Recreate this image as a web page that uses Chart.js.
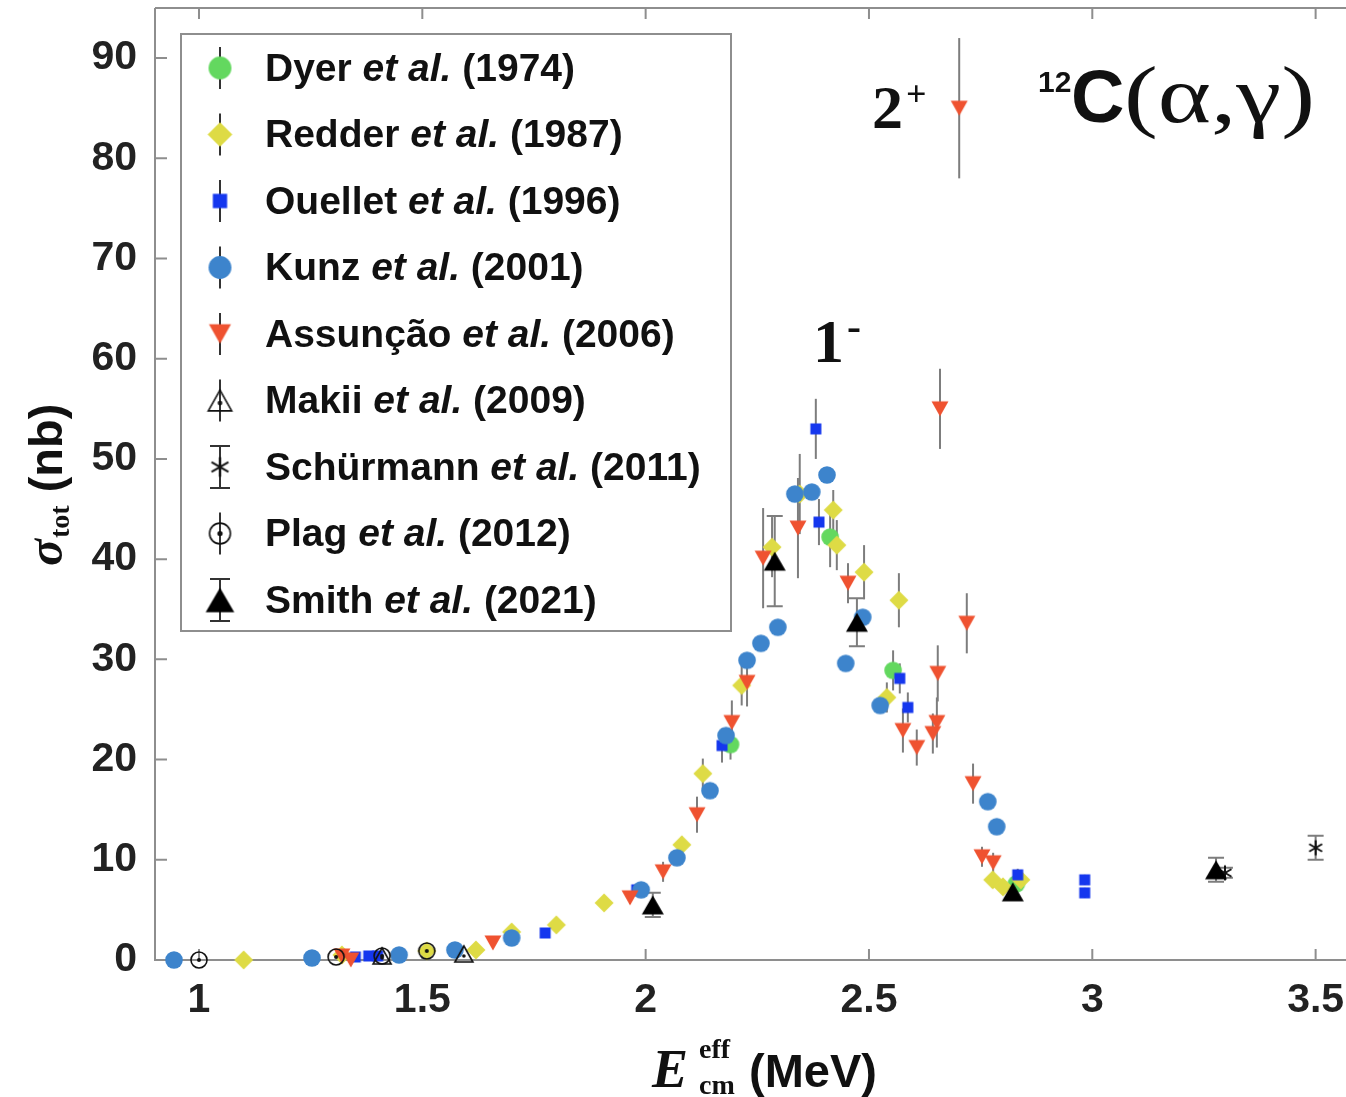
<!DOCTYPE html>
<html>
<head>
<meta charset="utf-8">
<script src="https://cdn.jsdelivr.net/npm/chart.js@4.4.0/dist/chart.umd.min.js"></script>
<style>
  html, body { margin: 0; padding: 0; background: #fff; }
</style>
</head>
<body>
<canvas id="chart" width="1346" height="1097"></canvas>
<script>
// Studies shown in the legend
const studyNames = ["Dyer", "Redder", "Ouellet", "Kunz", "Assunção", "Makii", "Schürmann", "Plag", "Smith"];
const studyYears = ["1974", "1987", "1996", "2001", "2006", "2009", "2011", "2012", "2021"];

// Values: E (MeV), sigma (nb), error (nb)
const dyerE = [2.19, 2.413, 2.554, 2.83];
const dyerSigma = [21.5, 42.2, 28.9, 7.6];
const dyerErr = [1.5, 3.0, 2.0, 0.8];

const redderE = [1.10, 1.32, 1.51, 1.62, 1.70, 1.80, 1.907, 2.081, 2.128, 2.215, 2.283, 2.345, 2.42, 2.428, 2.489, 2.54, 2.567, 2.777, 2.80, 2.84];
const redderSigma = [0.0, 0.5, 0.9, 1.0, 2.8, 3.5, 5.7, 11.5, 18.6, 27.4, 41.2, 46.5, 44.9, 41.4, 38.7, 26.2, 35.9, 8.0, 7.3, 8.0];
const redderErr = [0, 0, 0, 0, 0, 0, 0, 0.8, 1.5, 2.0, 3.0, 4.0, 2.0, 2.5, 2.7, 1.5, 2.7, 0.8, 0.8, 0.8];

const ouelletE = [1.35, 1.38, 1.40, 1.775, 1.98, 2.171, 2.381, 2.388, 2.569, 2.587, 2.833, 2.983, 2.983];
const ouelletSigma = [0.3, 0.4, 0.4, 2.7, 7.0, 21.4, 53.0, 43.7, 28.1, 25.2, 8.5, 8.0, 6.7];
const ouelletErr = [0, 0, 0, 0, 0.4, 1.7, 3.0, 2.3, 1.5, 1.5, 0.6, 0.5, 0.5];

const kunzE = [0.944, 1.253, 1.448, 1.573, 1.70, 1.99, 2.07, 2.144, 2.18, 2.227, 2.258, 2.296, 2.334, 2.372, 2.406, 2.448, 2.486, 2.525, 2.766, 2.786];
const kunzSigma = [0.0, 0.2, 0.5, 1.0, 2.2, 7.0, 10.2, 16.9, 22.4, 29.9, 31.6, 33.2, 46.5, 46.7, 48.4, 29.6, 34.2, 25.4, 15.8, 13.3];

const assuncaoE = [1.32, 1.34, 1.658, 1.965, 2.039, 2.115, 2.193, 2.227, 2.263, 2.341, 2.453, 2.576, 2.607, 2.643, 2.652, 2.654, 2.659, 2.702, 2.719, 2.733, 2.753, 2.778];
const assuncaoSigma = [0.4, 0.0, 1.7, 6.2, 8.8, 14.5, 23.7, 27.7, 40.1, 43.1, 37.6, 22.9, 21.2, 22.6, 23.7, 28.6, 55.0, 85.0, 33.6, 17.6, 10.3, 9.7];
const assuncaoErr = [0, 0, 0.3, 0.6, 1.0, 1.8, 2.2, 2.4, 5.0, 5.0, 2.0, 2.2, 1.8, 2.0, 2.5, 2.8, 4.0, 7.0, 3.0, 2.0, 1.0, 1.0];

const makiiE = [1.41, 1.593];
const makiiSigma = [0.4, 0.6];

const schurmannE = [3.297, 3.50];
const schurmannSigma = [8.7, 11.2];
const schurmannErr = [0.5, 1.2];

const plagE = [1.0, 1.307, 1.41, 1.51];
const plagSigma = [0.0, 0.3, 0.4, 0.9];

const smithE = [2.016, 2.289, 2.473, 2.822, 3.277];
const smithSigma = [5.5, 39.8, 33.7, 6.8, 9.0];
const smithErr = [1.2, 4.5, 2.4, 0.6, 1.2];

// Axis ticks
const xTicks = [1, 1.5, 2, 2.5, 3, 3.5];
const xTickLabels = ["1", "1.5", "2", "2.5", "3", "3.5"];
const yTicks = [0, 10, 20, 30, 40, 50, 60, 70, 80, 90];
const yTickLabels = ["0", "10", "20", "30", "40", "50", "60", "70", "80", "90"];

const SANS = '"Liberation Sans", Arial, sans-serif';
const SERIF = '"Liberation Serif", "Times New Roman", serif';

// Marker drawn on a small canvas, used both in the plot and the legend
function makeMarker(kind, color, k) {
  k = k || 1;
  const s = Math.ceil(28 * k);
  const cv = document.createElement("canvas");
  cv.width = s; cv.height = s;
  const g = cv.getContext("2d");
  const c = s / 2;
  g.fillStyle = color;
  g.strokeStyle = color;
  g.beginPath();
  if (kind === "circle") {
    g.arc(c, c, 8.8 * k, 0, Math.PI * 2);
    g.fill();
  } else if (kind === "square") {
    g.fillRect(c - 5.5 * k, c - 5.5 * k, 11 * k, 11 * k);
  } else if (kind === "diamond") {
    const r = 9.5 * k;
    g.moveTo(c, c - r); g.lineTo(c + r, c); g.lineTo(c, c + r); g.lineTo(c - r, c);
    g.closePath(); g.fill();
  } else if (kind === "down") {
    const w = 8.5 * k, h = 15 * k;
    g.moveTo(c - w, c - h / 2); g.lineTo(c + w, c - h / 2); g.lineTo(c, c + h / 2);
    g.closePath(); g.fill();
  } else if (kind === "up") {
    const w = 11 * k, h = 19 * k;
    g.moveTo(c - w, c + h / 2); g.lineTo(c + w, c + h / 2); g.lineTo(c, c - h / 2);
    g.closePath(); g.fill();
  } else if (kind === "upOpen") {
    const w = 9 * k, h = 16 * k;
    g.lineWidth = 1.6;
    g.moveTo(c - w, c + h / 2); g.lineTo(c + w, c + h / 2); g.lineTo(c, c - h / 2);
    g.closePath(); g.stroke();
    g.beginPath(); g.arc(c, c + 2 * k, 1.8 * k, 0, Math.PI * 2); g.fill();
  } else if (kind === "ringDot") {
    g.lineWidth = 1.6;
    g.arc(c, c, 8 * k, 0, Math.PI * 2); g.stroke();
    g.beginPath(); g.arc(c, c, 2 * k, 0, Math.PI * 2); g.fill();
  } else if (kind === "aster") {
    g.lineWidth = 2;
    const r = 7.5 * k;
    [90, 30, 150].forEach(a => {
      const t = a * Math.PI / 180;
      g.moveTo(c - r * Math.cos(t), c - r * Math.sin(t));
      g.lineTo(c + r * Math.cos(t), c + r * Math.sin(t));
    });
    g.stroke();
  }
  return cv;
}

const seriesStyles = [
  { kind: "circle", color: "#63d85f" },
  { kind: "diamond", color: "#dedb45" },
  { kind: "square", color: "#1537ee" },
  { kind: "circle", color: "#3d84cc" },
  { kind: "down", color: "#ef5230" },
  { kind: "upOpen", color: "#111" },
  { kind: "aster", color: "#111", caps: true },
  { kind: "ringDot", color: "#111" },
  { kind: "up", color: "#000", caps: true }
];

const seriesData = [
  [dyerE, dyerSigma, dyerErr],
  [redderE, redderSigma, redderErr],
  [ouelletE, ouelletSigma, ouelletErr],
  [kunzE, kunzSigma, null],
  [assuncaoE, assuncaoSigma, assuncaoErr],
  [makiiE, makiiSigma, null],
  [schurmannE, schurmannSigma, schurmannErr],
  [plagE, plagSigma, null],
  [smithE, smithSigma, smithErr]
];

const legendMarkers = seriesStyles.map(st => makeMarker(st.kind, st.color, 1.3));

const datasets = seriesData.map(([xs, ys, errs], i) => ({
  label: studyNames[i] + " et al. (" + studyYears[i] + ")",
  data: xs.map((x, j) => ({ x: x, y: ys[j] })),
  err: errs,
  caps: !!seriesStyles[i].caps,
  pointStyle: makeMarker(seriesStyles[i].kind, seriesStyles[i].color, 1),
  pointRadius: 8,
  showLine: false,
  clip: false,
  order: 9 - i
}));

// Axes frame with inward ticks
const frame = {
  id: "frame",
  beforeDatasetsDraw(chart) {
    const { ctx, chartArea: a, scales: { x, y } } = chart;
    ctx.save();
    ctx.strokeStyle = "#8e8e8e";
    ctx.lineWidth = 2;
    ctx.beginPath();
    ctx.moveTo(a.left, a.top); ctx.lineTo(a.right, a.top);
    ctx.moveTo(a.left, a.top); ctx.lineTo(a.left, a.bottom); ctx.lineTo(a.right, a.bottom);
    xTicks.forEach(v => {
      const px = x.getPixelForValue(v);
      ctx.moveTo(px, a.bottom); ctx.lineTo(px, a.bottom - 11);
      ctx.moveTo(px, a.top); ctx.lineTo(px, a.top + 11);
    });
    yTicks.forEach(v => {
      const py = y.getPixelForValue(v);
      ctx.moveTo(a.left, py); ctx.lineTo(a.left + 12, py);
    });
    ctx.stroke();
    ctx.restore();
  }
};

// Vertical error bars behind the markers
const errorBars = {
  id: "errorBars",
  beforeDatasetsDraw(chart) {
    const { ctx, scales: { x, y } } = chart;
    ctx.save();
    ctx.strokeStyle = "#7d7d7d";
    ctx.lineWidth = 2;
    chart.data.datasets.forEach(ds => {
      if (!ds.err) return;
      ds.data.forEach((p, i) => {
        const e = ds.err[i];
        if (!e) return;
        const px = x.getPixelForValue(p.x);
        const y1 = y.getPixelForValue(p.y - e);
        const y2 = y.getPixelForValue(p.y + e);
        ctx.beginPath();
        ctx.moveTo(px, y1); ctx.lineTo(px, y2);
        if (ds.caps) {
          ctx.moveTo(px - 8, y1); ctx.lineTo(px + 8, y1);
          ctx.moveTo(px - 8, y2); ctx.lineTo(px + 8, y2);
        }
        ctx.stroke();
      });
    });
    ctx.restore();
  }
};

// Legend box in the top left corner of the plot
const legendBox = {
  id: "legendBox",
  afterDraw(chart) {
    const ctx = chart.ctx;
    ctx.save();
    ctx.fillStyle = "#fff";
    ctx.fillRect(181, 34, 550, 597);
    ctx.strokeStyle = "#8e8e8e";
    ctx.lineWidth = 2;
    ctx.strokeRect(181, 34, 550, 597);
    studyNames.forEach((name, i) => {
      const cy = 68 + i * 66.5;
      const mx = 220;
      ctx.strokeStyle = "#333";
      ctx.lineWidth = 2;
      ctx.beginPath();
      ctx.moveTo(mx, cy - 21); ctx.lineTo(mx, cy + 21);
      if (seriesStyles[i].caps) {
        ctx.moveTo(mx - 10, cy - 21); ctx.lineTo(mx + 10, cy - 21);
        ctx.moveTo(mx - 10, cy + 21); ctx.lineTo(mx + 10, cy + 21);
      }
      ctx.stroke();
      const m = legendMarkers[i];
      ctx.drawImage(m, mx - m.width / 2, cy - m.height / 2);
      let tx = 265;
      ctx.fillStyle = "#111";
      ctx.textBaseline = "middle";
      [
        [name + " ", "bold 39px " + SANS],
        ["et al.", "italic bold 39px " + SANS],
        [" (" + studyYears[i] + ")", "bold 39px " + SANS]
      ].forEach(([s, f]) => {
        ctx.font = f;
        ctx.fillText(s, tx, cy + 2);
        tx += ctx.measureText(s).width;
      });
    });
    ctx.restore();
  }
};

// Axis titles and annotations
const annotations = {
  id: "annotations",
  afterDraw(chart) {
    const ctx = chart.ctx;
    ctx.save();
    ctx.fillStyle = "#111";
    ctx.textBaseline = "alphabetic";

    // state labels
    ctx.font = "bold 62px " + SERIF;
    ctx.fillText("2", 872, 128);
    ctx.fillText("1", 813, 362);
    ctx.font = "bold 36px " + SERIF;
    ctx.fillText("+", 906, 106);
    ctx.font = "bold 42px " + SERIF;
    ctx.fillText("-", 847, 340);

    // reaction
    ctx.font = "bold 30px " + SANS;
    ctx.fillText("12", 1038, 92);
    ctx.font = "bold 74px " + SANS;
    ctx.fillText("C", 1071, 122);
    ctx.font = "80px " + SERIF;
    const react = "(α,γ)";
    const w = ctx.measureText(react).width;
    ctx.save();
    ctx.translate(1124, 122);
    ctx.scale(191 / w, 1);
    ctx.fillText(react, 0, 0);
    ctx.restore();

    // x title
    ctx.font = "italic bold 54px " + SERIF;
    ctx.fillText("E", 652, 1087);
    ctx.font = "bold 28px " + SERIF;
    ctx.fillText("eff", 699, 1058);
    ctx.fillText("cm", 699, 1094);
    ctx.font = "bold 47px " + SANS;
    ctx.fillText("(MeV)", 749, 1087);

    // y title
    ctx.save();
    ctx.translate(62, 566);
    ctx.rotate(-Math.PI / 2);
    let tx = 0;
    ctx.font = "italic bold 50px " + SERIF;
    ctx.fillText("σ", tx, 0);
    tx += ctx.measureText("σ").width + 1;
    ctx.font = "bold 28px " + SERIF;
    ctx.fillText("tot", tx, 7);
    tx += ctx.measureText("tot").width;
    ctx.font = "bold 47px " + SANS;
    ctx.fillText(" (nb)", tx, 0);
    ctx.restore();

    ctx.restore();
  }
};

const tickFont = { family: "Liberation Sans", size: 41, weight: "bold" };

new Chart(document.getElementById("chart"), {
  type: "scatter",
  data: { datasets: datasets },
  options: {
    responsive: false,
    animation: false,
    events: [],
    layout: { autoPadding: false, padding: { top: 8, right: 0, left: 0, bottom: 0 } },
    plugins: {
      legend: { display: false },
      tooltip: { enabled: false }
    },
    scales: {
      x: {
        type: "linear",
        min: 0.9015,
        max: 3.568,
        grid: { display: false, drawTicks: false },
        border: { display: false },
        afterBuildTicks: s => { s.ticks = xTicks.map(v => ({ value: v })); },
        afterFit: s => {
          s.height = 137;
          s.paddingLeft = 0; s.paddingRight = 0;
        },
        ticks: {
          callback: v => xTickLabels[xTicks.indexOf(v)],
          font: tickFont,
          color: "#222",
          padding: 16,
          maxRotation: 0,
          autoSkip: false
        }
      },
      y: {
        type: "linear",
        min: 0,
        max: 95,
        grid: { display: false, drawTicks: false },
        border: { display: false },
        afterBuildTicks: s => { s.ticks = yTicks.map(v => ({ value: v })); },
        afterFit: s => {
          s.width = 155;
          s.paddingTop = 0; s.paddingBottom = 0;
        },
        ticks: {
          callback: v => yTickLabels[yTicks.indexOf(v)],
          font: tickFont,
          color: "#222",
          padding: 18,
          autoSkip: false
        }
      }
    }
  },
  plugins: [frame, errorBars, legendBox, annotations]
});
</script>
</body>
</html>
